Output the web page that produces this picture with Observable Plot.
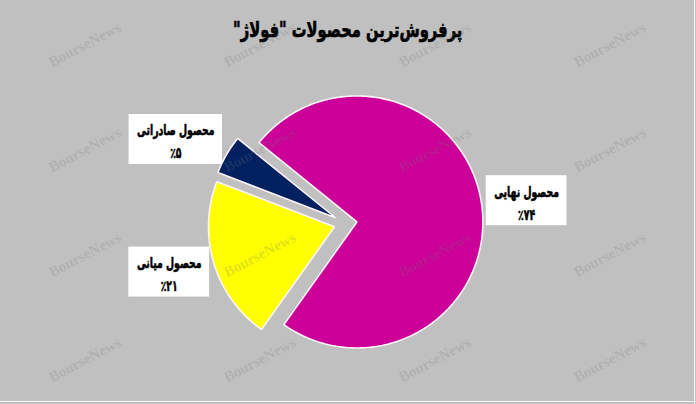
<!DOCTYPE html>
<html>
<head>
<meta charset="utf-8">
<script src="https://cdn.jsdelivr.net/npm/d3@7"></script>
<script src="https://cdn.jsdelivr.net/npm/@observablehq/plot@0.6"></script>
<style>
  html, body { margin: 0; padding: 0; background: #c0c0c0; }
  #wrap { position: relative; width: 696px; height: 404px; background: #c0c0c0; overflow: hidden; }
  #title { height: 56px; width: 696px; text-align: center; line-height: 64px; }
  #title span { display: inline-block; direction: rtl; font: bold 21px "DejaVu Sans", sans-serif; color: #000;
                -webkit-text-stroke: 0.7px #000;
                transform: scaleX(0.7); transform-origin: 50% 50%; white-space: nowrap; }
  #chart svg { display: block; }
  .edge-r { position: absolute; left: 694px; top: 0; width: 1px; height: 404px; background: #f4f4f4; }
  .edge-b { position: absolute; left: 0; top: 401px; width: 696px; height: 1px; background: #f4f4f4; }
  .wm { position: absolute; font: bold 15px "Liberation Serif", serif; color: rgba(120,120,120,0.22);
        transform: translate(-50%,-50%) rotate(-28deg); white-space: nowrap; pointer-events: none; }
</style>
</head>
<body>
<div id="wrap">
  <div id="title"><span>پرفروش‌ترین محصولات "فولاژ"</span></div>
  <div id="chart"></div>
  <div class="edge-r"></div>
  <div class="edge-b"></div>
</div>
<script>
// ---- data ----
const categories = ["محصول نهایی", "محصول میانی", "محصول صادراتی"];
const shares = [74, 21, 5];
const percentLabels = ["٪۷۴", "٪۲۱", "٪۵"];
const sliceColors = ["#cc0099", "#ffff00", "#002060"];

// ---- layout / style ----
const W = 696, H = 348;
const R = 126;            // pixels per radius unit
const cx = 345, cy = 167; // pie centre inside the svg
const explode = 11.5 / R;
const labelDistX = 142 / R, labelDistY = 168 / R;
const startDeg = 309;
const fontSize = 15;
const squeeze = 0.62;     // horizontal compression of label lettering
const lineH = 23;

const table = categories.map((name, i) => ({name, value: shares[i], pct: percentLabels[i], color: sliceColors[i]}));
const arcs = d3.pie().sort(null).value(d => d.value)
  .startAngle(startDeg * Math.PI / 180).endAngle((startDeg + 360) * Math.PI / 180)(table);

// slice outlines in radius units (y up)
const pts = [];
for (const a of arcs) {
  const mid = (a.startAngle + a.endAngle) / 2;
  const ox = explode * Math.sin(mid), oy = explode * Math.cos(mid);
  pts.push({name: a.data.name, color: a.data.color, x: ox, y: oy});
  const n = Math.max(8, Math.ceil((a.endAngle - a.startAngle) / (Math.PI / 180)));
  for (let k = 0; k <= n; k++) {
    const t = a.startAngle + (a.endAngle - a.startAngle) * k / n;
    pts.push({name: a.data.name, color: a.data.color, x: ox + Math.sin(t), y: oy + Math.cos(t)});
  }
}

// label boxes
const ctx = document.createElement("canvas").getContext("2d");
ctx.font = `bold ${fontSize}px "DejaVu Sans"`;
const padX = 8, padY = 6;
const labels = arcs.map(a => {
  const mid = (a.startAngle + a.endAngle) / 2;
  const ax = labelDistX * Math.sin(mid), ay = labelDistY * Math.cos(mid);
  const tw = squeeze * Math.max(ctx.measureText(a.data.name).width, ctx.measureText(a.data.pct).width);
  const bw = (tw + 2 * padX) / R;
  const bh = (lineH + fontSize + 2 * padY) / R;
  const right = Math.sin(mid) > 0;
  const x1 = right ? ax : ax - bw, x2 = right ? ax + bw : ax;
  return {text: a.data.name + "\n" + a.data.pct, x1, x2, y1: ay - bh / 2, y2: ay + bh / 2,
          x: (x1 + x2) / 2, y: ay};
});

const plot = Plot.plot({
  width: W, height: H, margin: 0,
  style: {background: "transparent", overflow: "visible"},
  x: {domain: [-cx / R, (W - cx) / R], axis: null},
  y: {domain: [-(H - cy) / R, cy / R], axis: null},
  marks: [
    Plot.line(pts, {x: "x", y: "y", z: "name", fill: "color", stroke: "#fff4fb", strokeWidth: 1.6,
                    curve: "linear-closed", strokeLinejoin: "miter"}),
    Plot.rect(labels, {x1: "x1", x2: "x2", y1: "y1", y2: "y2", fill: "white"}),
    Plot.text(labels, {x: "x", y: "y", text: "text", fontSize, fontWeight: "bold",
                       fontFamily: "DejaVu Sans", lineHeight: lineH / fontSize, fill: "black",
                       stroke: "black", strokeWidth: 0.6, className: "lbl"})
  ]
});
document.getElementById("chart").appendChild(plot);

// compress label lettering horizontally about each label's centre
plot.querySelectorAll(".lbl text").forEach(el => {
  const b = el.getBBox();
  const c = b.x + b.width / 2;
  const t = el.getAttribute("transform") || "";
  el.setAttribute("transform", `${t} translate(${c},0) scale(${squeeze},1) translate(${-c},0)`);
});

// faint watermark
const wrap = document.getElementById("wrap");
for (let r = 0; r < 4; r++) for (let c = 0; c < 4; c++) {
  const s = document.createElement("div");
  s.className = "wm";
  s.textContent = "BourseNews";
  s.style.left = (85 + 175 * c) + "px";
  s.style.top = (45 + 105 * r) + "px";
  wrap.appendChild(s);
}
</script>
</body>
</html>
